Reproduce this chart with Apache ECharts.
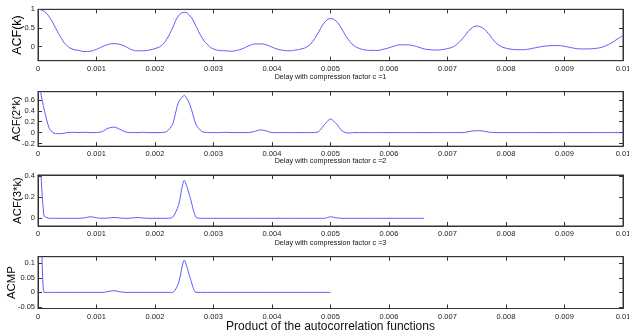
<!DOCTYPE html>
<html>
<head>
<meta charset="utf-8">
<script src="https://cdn.jsdelivr.net/npm/echarts@6/dist/echarts.min.js"></script>
<style>
  html, body { margin: 0; padding: 0; background: #fff; }
  #chart { width: 629px; height: 335px; }
</style>
</head>
<body>
<div id="chart"></div>
<script>
// sample spacing of the delay axis (s)
const STEP = 0.0001;

// ACF(k), 0 .. 0.01
const acf1 = [
  1.0, 0.95, 0.78, 0.5, 0.22, 0.02, -0.07, -0.1, -0.13, -0.12,
  -0.07, 0.0, 0.06, 0.08, 0.06, 0.0, -0.08, -0.11, -0.11, -0.09,
  -0.05, 0.02, 0.2, 0.5, 0.82, 0.92, 0.82, 0.55, 0.25, 0.05,
  -0.06, -0.1, -0.11, -0.12, -0.1, -0.05, 0.02, 0.07, 0.075, 0.05,
  -0.01, -0.07, -0.1, -0.11, -0.09, -0.06, 0.0, 0.15, 0.4, 0.65,
  0.75, 0.68, 0.45, 0.2, 0.03, -0.05, -0.09, -0.1, -0.1, -0.07,
  -0.03, 0.02, 0.05, 0.05, 0.03, -0.01, -0.06, -0.08, -0.09, -0.08,
  -0.05, 0.0, 0.12, 0.3, 0.48, 0.55, 0.5, 0.35, 0.15, 0.02,
  -0.04, -0.07, -0.08, -0.08, -0.06, -0.03, 0.0, 0.02, 0.03, 0.03,
  0.01, -0.02, -0.05, -0.06, -0.06, -0.05, -0.03, 0.02, 0.1, 0.2,
  0.3
];

// ACF(2*k), 0 .. 0.01
const acf2 = [
  1.0, 0.45, 0.06, -0.02, -0.02, 0.0, 0.005, 0.0, 0.005, 0.0,
  0.0, 0.02, 0.08, 0.1, 0.06, 0.01, 0.0, 0.0, 0.005, 0.0,
  0.0, 0.0, 0.02, 0.15, 0.55, 0.68, 0.5, 0.15, 0.02, 0.0,
  0.0, 0.0, 0.005, 0.0, 0.0, 0.0, 0.0, 0.02, 0.05, 0.03,
  0.0, 0.0, 0.0, 0.0, 0.0, 0.0, 0.0, 0.0, 0.02, 0.15,
  0.25, 0.16, 0.03, -0.01, 0.0, 0.0, 0.0, 0.0, 0.0, 0.0,
  0.0, 0.0, 0.0, 0.0, 0.0, 0.0, 0.0, 0.0, 0.0, 0.0,
  0.0, 0.0, 0.0, 0.005, 0.025, 0.035, 0.03, 0.01, 0.0, 0.0,
  0.0, 0.0, 0.0, 0.0, 0.0, 0.0, 0.0, 0.0, 0.0, 0.0,
  0.0, 0.0, 0.0, 0.0, 0.0, 0.0, 0.0, 0.0, 0.0, 0.0,
  0.0
];

// ACF(3*k), 0 .. 0.0066
const acf3 = [
  1.0, 0.03, 0.0, 0.0, 0.0, 0.0, 0.0, 0.0, 0.005, 0.015,
  0.005, 0.0, 0.003, 0.008, 0.003, 0.0, 0.003, 0.008, 0.003, 0.0,
  0.0, 0.0, 0.0, 0.01, 0.12, 0.36, 0.2, 0.01, 0.0, 0.0,
  0.0, 0.0, 0.0, 0.0, 0.0, 0.0, 0.0, 0.0, 0.0, 0.0,
  0.0, 0.0, 0.0, 0.0, 0.0, 0.0, 0.0, 0.0, 0.0, 0.0,
  0.015, 0.005, 0.0, 0.0, 0.0, 0.0, 0.0, 0.0, 0.0, 0.0,
  0.0, 0.0, 0.0, 0.0, 0.0, 0.0, 0.0
];

// ACMP (product), 0 .. 0.005
const acmp = [
  1.0, 0.0, 0.0, 0.0, 0.0, 0.0, 0.0, 0.0, 0.0, 0.0,
  0.0, 0.0, 0.003, 0.006, 0.002, 0.0, 0.0, 0.0, 0.0, 0.0,
  0.0, 0.0, 0.0, 0.0, 0.03, 0.11, 0.05, 0.0, 0.0, 0.0,
  0.0, 0.0, 0.0, 0.0, 0.0, 0.0, 0.0, 0.0, 0.0, 0.0,
  0.0, 0.0, 0.0, 0.0, 0.0, 0.0, 0.0, 0.0, 0.0, 0.0,
  0.0
];

const xTicks = [0, 0.001, 0.002, 0.003, 0.004, 0.005, 0.006, 0.007, 0.008, 0.009, 0.01];
const yTicks1 = [0, 0.5, 1];
const yTicks2 = [-0.2, 0, 0.2, 0.4, 0.6];
const yTicks3 = [0, 0.2, 0.4];
const yTicks4 = [-0.05, 0, 0.05, 0.1];

const yNames = ['ACF(k)', 'ACF(2*k)', 'ACF(3*k)', 'ACMP'];
const xNames = [
  'Delay with compression factor c =1',
  'Delay with compression factor c =2',
  'Delay with compression factor c =3',
  'Product of the autocorrelation functions'
];

const panels = [
  { data: acf1, ticks: yTicks1, min: -0.375, max: 1, top: 9.3, height: 51.4,
    nameSize: 12.5, nameGap: 14, xNameSize: 7.2, xNameGap: 13 },
  { data: acf2, ticks: yTicks2, min: -0.25, max: 0.75, top: 91.7, height: 54.5,
    nameSize: 11, nameGap: 15.5, xNameSize: 7.2, xNameGap: 11 },
  { data: acf3, ticks: yTicks3, min: -0.073, max: 0.412, top: 175, height: 51,
    nameSize: 11.4, nameGap: 14.5, xNameSize: 7.2, xNameGap: 14 },
  { data: acmp, ticks: yTicks4, min: -0.055, max: 0.122, top: 256.7, height: 51.8,
    nameSize: 11.4, nameGap: 21, xNameSize: 12, xNameGap: 12.5 }
];

const FONT = "'Liberation Sans', Arial, sans-serif";
const AXIS = '#333';
const tickFmt = v => String(+v.toFixed(4));

const grid = [], xAxis = [], yAxis = [], series = [];

panels.forEach((p, i) => {
  grid.push({
    left: 38, width: 585, top: p.top, height: p.height,
    outerBoundsMode: 'none', containLabel: false,
    show: true, borderColor: AXIS, borderWidth: 1, backgroundColor: '#fff'
  });
  // bottom x axis with labels and name
  xAxis.push({
    gridIndex: i, type: 'value', min: 0, max: 0.01, interval: 0.001,
    position: 'bottom',
    name: xNames[i], nameLocation: 'middle', nameGap: p.xNameGap, nameMoveOverlap: false,
    nameTextStyle: { fontFamily: FONT, fontSize: p.xNameSize, color: '#111' },
    axisLine: { show: true, onZero: false, lineStyle: { color: AXIS } },
    axisTick: { show: true, inside: true, length: 4, lineStyle: { color: AXIS } },
    axisLabel: { fontFamily: FONT, fontSize: 7.5, color: '#222', margin: 4, formatter: tickFmt },
    splitLine: { show: false }
  });
  // top x axis, ticks only
  xAxis.push({
    gridIndex: i, type: 'value', min: 0, max: 0.01, interval: 0.001,
    position: 'top',
    axisLine: { show: true, onZero: false, lineStyle: { color: AXIS } },
    axisTick: { show: true, inside: true, length: 4, lineStyle: { color: AXIS } },
    axisLabel: { show: false },
    splitLine: { show: false }
  });
  // left y axis
  yAxis.push({
    gridIndex: i, type: 'value', min: p.min, max: p.max,
    position: 'left',
    name: yNames[i], nameLocation: 'middle', nameGap: p.nameGap, nameMoveOverlap: false,
    nameTextStyle: { fontFamily: FONT, fontSize: p.nameSize, color: '#000' },
    axisLine: { show: true, onZero: false, lineStyle: { color: AXIS } },
    axisTick: { show: true, inside: true, length: 4, customValues: p.ticks, lineStyle: { color: AXIS } },
    axisLabel: { fontFamily: FONT, fontSize: 7.5, color: '#222', margin: 3,
      customValues: p.ticks, formatter: tickFmt },
    splitLine: { show: false }
  });
  // right y axis, ticks only
  yAxis.push({
    gridIndex: i, type: 'value', min: p.min, max: p.max,
    position: 'right',
    axisLine: { show: true, onZero: false, lineStyle: { color: AXIS } },
    axisTick: { show: true, inside: true, length: 4, customValues: p.ticks, lineStyle: { color: AXIS } },
    axisLabel: { show: false },
    splitLine: { show: false }
  });
  series.push({
    type: 'line',
    xAxisIndex: i * 2, yAxisIndex: i * 2,
    data: p.data.map((v, k) => [k * STEP, v]),
    showSymbol: false, symbol: 'none',
    smooth: i === 0 ? true : 0.25,
    clip: true,
    lineStyle: { color: '#4848ff', width: 0.9 },
    silent: true
  });
});

const chart = echarts.init(document.getElementById('chart'), null, { renderer: 'canvas' });
chart.setOption({
  animation: false,
  backgroundColor: '#fff',
  grid, xAxis, yAxis, series
});
</script>
</body>
</html>
